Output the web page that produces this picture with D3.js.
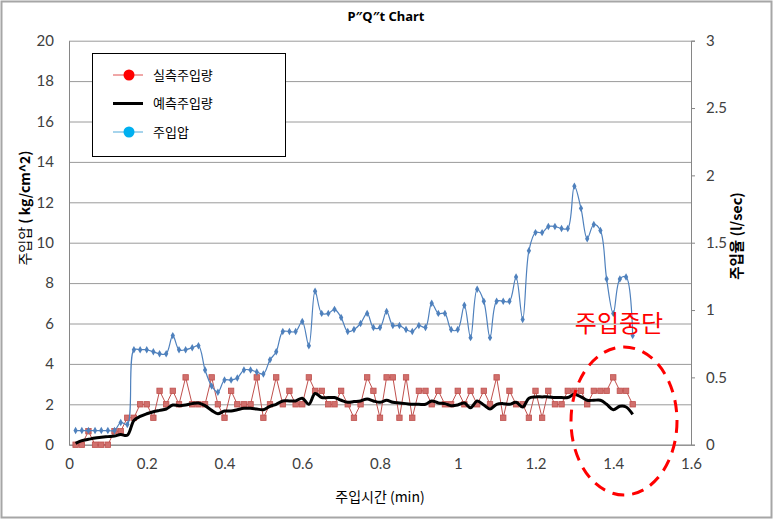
<!DOCTYPE html>
<html><head><meta charset="utf-8">
<script src="https://cdn.jsdelivr.net/npm/d3@7"></script>
<style>body{margin:0;background:#fff}</style>
</head><body><svg id="c" width="775" height="521"></svg>
<script>
const times = [0.017,0.033,0.050,0.067,0.083,0.100,0.117,0.133,0.150,0.167,0.183,0.200,0.217,0.233,0.250,0.267,0.283,0.300,0.317,0.333,0.350,0.367,0.383,0.400,0.417,0.433,0.450,0.467,0.483,0.500,0.517,0.533,0.550,0.567,0.583,0.600,0.617,0.633,0.650,0.667,0.683,0.700,0.717,0.733,0.750,0.767,0.783,0.800,0.817,0.833,0.850,0.867,0.883,0.900,0.917,0.933,0.950,0.967,0.983,1.000,1.017,1.033,1.050,1.067,1.083,1.100,1.117,1.133,1.150,1.167,1.183,1.200,1.217,1.233,1.250,1.267,1.283,1.300,1.317,1.333,1.350,1.367,1.383,1.400,1.417,1.433,1.450];
const pressure = [0.7,0.7,0.7,0.7,0.7,0.7,0.7,1.1,1.0,4.7,4.7,4.7,4.6,4.5,4.5,5.4,4.7,4.7,4.8,4.9,3.7,2.9,2.6,3.2,3.2,3.3,3.7,3.7,3.6,3.5,4.2,4.6,5.6,5.6,5.6,6.1,4.9,7.6,6.5,6.5,6.7,6.3,5.6,5.7,6.0,6.5,5.8,5.8,6.6,5.9,5.9,5.7,5.6,5.9,5.8,7.0,6.5,6.5,5.7,5.7,6.9,5.3,7.7,7.1,5.3,7.1,7.1,7.1,8.3,6.2,9.6,10.5,10.5,10.8,10.8,10.7,10.7,12.8,11.7,10.2,10.9,10.6,8.2,6.5,8.2,8.3,5.4];
const measuredFlow = [0,0,0.1,0,0,0,0.1,0.1,0.2,0.2,0.3,0.3,0.2,0.4,0.3,0.4,0.3,0.5,0.3,0.3,0.3,0.5,0.3,0.2,0.4,0.3,0.3,0.3,0.5,0.2,0.3,0.5,0.3,0.4,0.3,0.3,0.5,0.4,0.4,0.3,0.3,0.4,0.3,0.2,0.3,0.5,0.4,0.2,0.5,0.5,0.2,0.5,0.2,0.4,0.4,0.3,0.4,0.3,0.3,0.4,0.3,0.4,0.3,0.4,0.3,0.5,0.2,0.4,0.3,0.3,0.2,0.4,0.2,0.4,0.3,0.3,0.4,0.4,0.4,0.3,0.4,0.4,0.4,0.5,0.4,0.4,0.3];
const predictedFlow = [0.01,0.03,0.04,0.05,0.055,0.06,0.065,0.075,0.07,0.18,0.21,0.23,0.245,0.255,0.265,0.295,0.29,0.295,0.305,0.31,0.29,0.255,0.23,0.25,0.25,0.26,0.27,0.27,0.265,0.26,0.285,0.30,0.325,0.325,0.325,0.345,0.30,0.38,0.35,0.35,0.35,0.33,0.315,0.32,0.325,0.34,0.325,0.315,0.33,0.315,0.31,0.305,0.30,0.30,0.30,0.325,0.31,0.305,0.29,0.295,0.31,0.275,0.325,0.295,0.265,0.30,0.305,0.30,0.315,0.28,0.345,0.355,0.355,0.355,0.35,0.35,0.35,0.375,0.355,0.33,0.33,0.33,0.30,0.26,0.285,0.28,0.225];
const xTicks = [0,0.2,0.4,0.6,0.8,1,1.2,1.4,1.6];
const leftTicks = [0,2,4,6,8,10,12,14,16,18,20];
const rightTicks = [0,0.5,1,1.5,2,2.5,3];
const seriesNames = ["실측주입량","예측주입량","주입압"];
const titleText = "P\u2033Q\u2033t Chart";
const annotationText = "주입중단";

const svg = d3.select("#c");
const KR = "'Noto Sans CJK KR', sans-serif";
const NUM = "Lato, 'Open Sans', sans-serif";
const L = 69, R = 691, T = 40.7, B = 444.7;
const x = d3.scaleLinear().domain([0,1.6]).range([L,R]);
const yL = d3.scaleLinear().domain([0,20]).range([B,T]);
const yR = d3.scaleLinear().domain([0,3]).range([B,T]);

svg.append("rect").attr("x",0).attr("y",0).attr("width",775).attr("height",521).attr("fill","#fff");
svg.append("rect").attr("x",1.5).attr("y",1.5).attr("width",770).attr("height",516)
  .attr("fill","none").attr("stroke","#a6a6a6").attr("stroke-width",2);

// gridlines
const grid = svg.append("g").attr("transform",`translate(${L},0)`)
  .call(d3.axisLeft(yL).tickValues(leftTicks).tickSize(-(R-L)).tickFormat(""));
grid.select(".domain").remove();
grid.selectAll("line").attr("stroke","#9a9a9a").attr("stroke-width",1);

// left axis labels
const ax = svg.append("g").attr("transform",`translate(${L},0)`)
  .call(d3.axisLeft(yL).tickValues(leftTicks).tickSize(0).tickPadding(15));
ax.select(".domain").attr("stroke","#868686");
ax.selectAll("text").attr("font-family",NUM).attr("font-size",15).attr("fill","#404040");

// right axis
const axR = svg.append("g").attr("transform",`translate(${R},0)`)
  .call(d3.axisRight(yR).tickValues(rightTicks).tickSize(4).tickPadding(11).tickFormat(d3.format("")));
axR.select(".domain").attr("stroke","#868686");
axR.selectAll("line").attr("stroke","#868686");
axR.selectAll("text").attr("font-family",NUM).attr("font-size",15).attr("fill","#404040");

// bottom axis
const axB = svg.append("g").attr("transform",`translate(0,${B})`)
  .call(d3.axisBottom(x).tickValues(xTicks).tickSize(0).tickPadding(14).tickFormat(d3.format("")));
axB.select(".domain").attr("stroke","#868686");
axB.selectAll("text").attr("font-family",NUM).attr("font-size",15).attr("fill","#404040");

// series
const red = times.map((t,i)=>[t,measuredFlow[i]]);
const blk = times.map((t,i)=>[t,predictedFlow[i]]);
const blu = times.map((t,i)=>[t,pressure[i]]);

svg.append("path").datum(red).attr("fill","none").attr("stroke","#c0504d").attr("stroke-width",1)
  .attr("d",d3.line().x(d=>x(d[0])).y(d=>yR(d[1])));
svg.append("g").selectAll("rect").data(red).join("rect")
  .attr("x",d=>x(d[0])-2.7).attr("y",d=>yR(d[1])-2.7).attr("width",5.4).attr("height",5.4)
  .attr("fill","#d0706d").attr("stroke","#c0504d").attr("stroke-width",0.8);

svg.append("path").datum(blk).attr("fill","none").attr("stroke","#000").attr("stroke-width",3)
  .attr("stroke-linejoin","round")
  .attr("d",d3.line().x(d=>x(d[0])).y(d=>yR(d[1])).curve(d3.curveCatmullRom.alpha(0.5)));

svg.append("path").datum(blu).attr("fill","none").attr("stroke","#4f81bd").attr("stroke-width",1.2)
  .attr("d",d3.line().x(d=>x(d[0])).y(d=>yL(d[1])).curve(d3.curveCatmullRom.alpha(0.5)));
svg.append("g").selectAll("path").data(blu).join("path")
  .attr("transform",d=>`translate(${x(d[0])},${yL(d[1])})`)
  .attr("d",d3.symbol().type(d3.symbolDiamond).size(16)).attr("fill","#4f81bd");

// title
svg.append("text").attr("x",386).attr("y",21).attr("text-anchor","middle")
  .attr("font-family","'Noto Sans', sans-serif").attr("font-weight","bold").attr("font-size",13).attr("fill","#000").text(titleText);

// axis titles
const lt = svg.append("text").attr("transform","translate(25,208) rotate(-90)").attr("text-anchor","middle")
  .attr("font-family",KR).attr("font-size",14).attr("fill","#000").attr("dy","0.35em");
lt.append("tspan").text("주입압 ");
lt.append("tspan").attr("font-weight","bold").text("( kg/cm^2)");
svg.append("text").attr("transform","translate(737,236) rotate(-90)").attr("text-anchor","middle")
  .attr("font-family",KR).attr("font-size",14.5).attr("font-weight","bold").attr("fill","#000").attr("dy","0.35em")
  .text("주입율 (l/sec)");
svg.append("text").attr("x",380).attr("y",497).attr("text-anchor","middle").attr("dy","0.35em")
  .attr("font-family",KR).attr("font-size",14).attr("fill","#000").text("주입시간 (min)");

// legend
const lg = svg.append("g");
lg.append("rect").attr("x",92.5).attr("y",53.5).attr("width",193).attr("height",103)
  .attr("fill","#fff").attr("stroke","#000").attr("stroke-width",1);
const legendRows = [
  {name:seriesNames[0], line:"#e05050", lw:1, dot:"#ff0000"},
  {name:seriesNames[1], line:"#000", lw:3, dot:null},
  {name:seriesNames[2], line:"#4fa9d9", lw:1, dot:"#00b0f0"}
];
const rowY = [75,103.5,132];
legendRows.forEach((r,i)=>{
  const yy = rowY[i];
  lg.append("line").attr("x1",113).attr("x2",143).attr("y1",yy).attr("y2",yy)
    .attr("stroke",r.line).attr("stroke-width",r.lw);
  if(r.dot) lg.append("circle").attr("cx",129).attr("cy",yy).attr("r",5.5).attr("fill",r.dot);
  lg.append("text").attr("x",153).attr("y",yy).attr("dy","0.35em").attr("font-family",KR)
    .attr("font-size",13).attr("fill","#000").text(r.name);
});

// annotation
svg.append("ellipse").attr("cx",624).attr("cy",421).attr("rx",53).attr("ry",74)
  .attr("fill","none").attr("stroke","#ff0000").attr("stroke-width",3).attr("stroke-dasharray","12,8");
svg.append("text").attr("x",619).attr("y",332).attr("text-anchor","middle")
  .attr("font-family",KR).attr("font-size",24).attr("fill","#ff0000").text(annotationText);
</script>
</body></html>
